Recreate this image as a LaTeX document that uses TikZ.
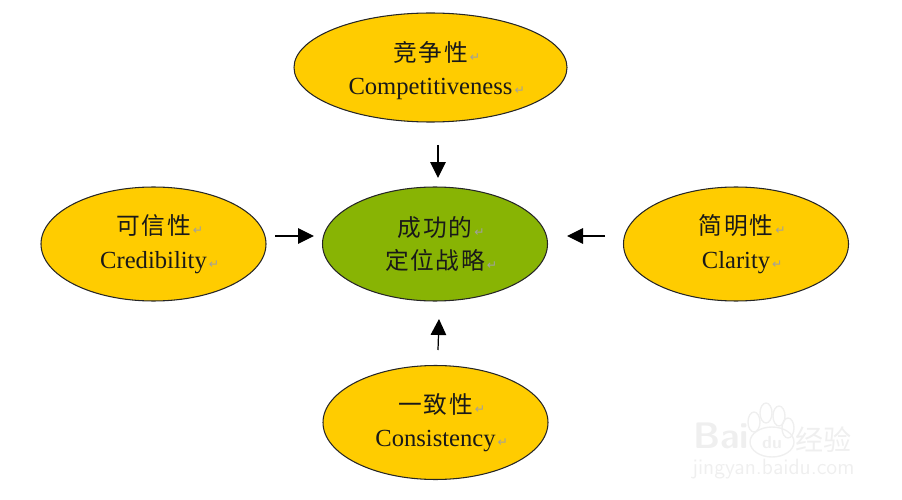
\documentclass[tikz,border=0pt]{standalone}
\usepackage{fontspec}
\setmainfont{Liberation Serif}
\newfontfamily\cjk[LetterSpace=7]{Noto Sans CJK SC}
\newfontfamily\wmcjk{Noto Sans CJK SC}
\newfontfamily\symb{DejaVu Sans}
\usetikzlibrary{positioning,arrows.meta,shapes.geometric}
\definecolor{gold}{HTML}{FFCC00}
\definecolor{leaf}{HTML}{88B404}
\definecolor{ret}{HTML}{A0A0A0}
\definecolor{wmark}{HTML}{EFEFEF}
\newcommand{\retmark}{\rlap{\textcolor{ret}{\symb\fontsize{7}{7}\selectfont\,↵}}}
\newcommand{\zh}[1]{{\cjk\fontsize{13.5}{13.5}\selectfont #1}}
\tikzset{
  oval/.style={ellipse,draw=black!85,line width=0.6pt,fill=gold,inner sep=0pt,
    minimum width=4.5cm,minimum height=2.28cm,align=center,text=black!90,font=\fontsize{14}{18}\selectfont},
  hub/.style={oval,fill=leaf},
  cue/.style={black,line width=0.7pt,-{Triangle[length=3.2mm,width=3.1mm]}},
}
\begin{document}
\begin{tikzpicture}
\useasboundingbox (0,0) rectangle (18.04,9.98);
\node[oval,minimum width=5.46cm,minimum height=2.18cm] (compete) at (8.61,8.63)
  {\rule{0pt}{0.52cm}\zh{竞争性}\retmark\\[1pt]Competitiveness\retmark};
\node[oval] (credit) at (3.07,5.1) {\zh{可信性}\retmark\\[1pt]Credibility\retmark};
\node[hub] (plan) at (8.7,5.1) {\zh{成功的}\retmark\\[1pt]\zh{定位战略}\retmark};
\node[oval] (clear) at (14.72,5.1) {\zh{简明性}\retmark\\[1pt]Clarity\retmark};
\node[oval] (steady) at (8.71,1.53) {\zh{一致性}\retmark\\[1pt]Consistency\retmark};
\coordinate (competeout) at (8.76,7.08);
\coordinate (planin1) at (8.76,6.42);
\coordinate (creditout) at (5.5,5.26);
\coordinate (planin2) at (6.28,5.26);
\coordinate (clearout) at (12.1,5.26);
\coordinate (planin3) at (11.34,5.26);
\coordinate (steadyout) at (8.76,2.98);
\coordinate (planin4) at (8.78,3.6);
\draw[cue] (competeout) -- (planin1);
\draw[cue] (creditout) -- (planin2);
\draw[cue] (clearout) -- (planin3);
\draw[cue] (steadyout) -- (planin4);
% watermark
\node[wmark,font=\sffamily\bfseries\fontsize{21}{21}\selectfont,anchor=west,inner sep=0pt] (wmbai) at (13.86,1.26) {Bai};
\node[wmark,font=\sffamily\bfseries\fontsize{10}{10}\selectfont] (wmdu) at (15.44,1.14) {du};
\node[wmark,font=\wmcjk\fontsize{16}{16}\selectfont,anchor=west,inner sep=0pt] (wmjy) at (15.9,1.18) {经验};
\node[wmark,font=\sffamily\fontsize{12.6}{12.6}\selectfont,anchor=west,inner sep=0pt] (wmurl) at (13.84,0.6) {jingyan.baidu.com};
\foreach \x/\y in {15.08/1.54, 15.32/1.72, 15.58/1.66, 15.76/1.42}
  {\draw[wmark,line width=0.8pt] (\x,\y) ellipse (0.12 and 0.2);}
\draw[wmark,line width=0.8pt] (15.44,1.14) ellipse (0.44 and 0.3);
\end{tikzpicture}
\end{document}
